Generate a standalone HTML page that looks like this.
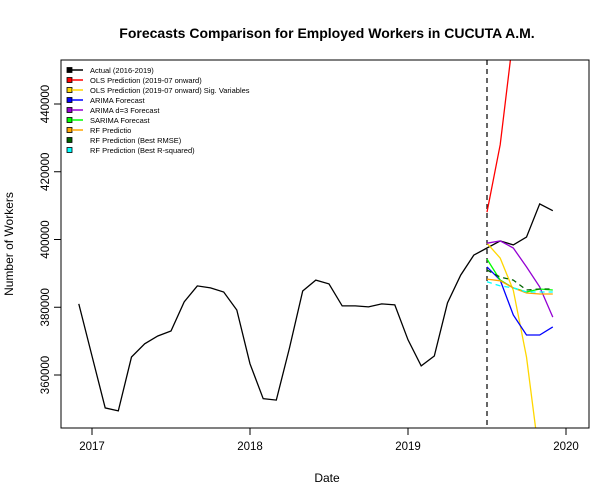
<!DOCTYPE html>
<html><head><meta charset="utf-8"><style>
html,body{margin:0;padding:0;background:#fff;width:600px;height:500px;overflow:hidden;}
svg{font-family:"Liberation Sans",Arial,sans-serif;display:block}
</style></head><body>
<svg id="chart" width="600" height="500">
<text x="327" y="38" text-anchor="middle" font-size="14" font-weight="bold">Forecasts Comparison for Employed Workers in CUCUTA A.M.</text>
<text x="327" y="482" text-anchor="middle" font-size="12">Date</text>
<text transform="translate(13,244) rotate(-90)" text-anchor="middle" font-size="12">Number of Workers</text>
<g id="axes"></g>
<g id="marks"></g>
<rect x="61" y="60" width="528" height="368" fill="none" stroke="#000"/>
<g id="legend"></g>
</svg>
<script>
const yTicks=[360000,380000,400000,420000,440000];
const xTickLabels=["2017","2018","2019","2020"];
const actual=[381000,365600,350300,349400,365300,369200,371500,373000,381600,386300,385700,384500,379200,363300,353000,352600,368000,384800,388000,386900,380400,380400,380100,381000,380700,370400,362700,365600,381300,389500,395400,397500,399600,398400,400700,410500,408500];
const olsPred=[408100,428000,460000,490000,520000,550000];
const olsSig=[398900,394500,385000,365300,335000,310000];
const arima=[391900,388000,377700,371800,371800,374200];
const arimaD3=[398900,399600,397500,391900,386000,377100];
const sarima=[394200,388000,385700,384500,385400,385100];
const rfPred=[388300,387800,385700,384200,383900,383900];
const rfRmse=[391000,388900,388000,385100,385400,385400];
const rfR2=[387500,386300,385700,384500,384500,384500];
const startMonth=2016*12+11;
const fcStart=2019*12+6;
const NS="http://www.w3.org/2000/svg";
const TOP=60,BOT=428;
const x=m=>92+(m-2017*12)*(158/12);
const y=v=>239.5-(v-400000)*271/80000;
function mk(tag,attrs,parent){const e=document.createElementNS(NS,tag);for(const k in attrs)e.setAttribute(k,attrs[k]);parent.appendChild(e);return e;}
const axes=document.getElementById('axes'),marks=document.getElementById('marks'),leg=document.getElementById('legend');
mk('line',{x1:92,x2:566,y1:428,y2:428,stroke:'#000'},axes);
xTickLabels.forEach(l=>{const px=x(+l*12);
 const t=mk('line',{x1:px,x2:px,y1:428,y2:435,stroke:'#000'},axes);
 
 
 const tx=mk('text',{x:px,y:450,'text-anchor':'middle','font-size':11.5},axes);tx.textContent=l;
 
 });
mk('line',{x1:61,x2:61,y1:y(360000),y2:y(440000),stroke:'#000'},axes);
yTicks.forEach(v=>{const py=y(v);
 const t=mk('line',{x1:54,x2:61,y1:py,y2:py,stroke:'#000'},axes);
 
 
 const tx=mk('text',{transform:`translate(49,${py}) rotate(-90)`,'text-anchor':'middle','font-size':11.5},axes);tx.textContent=v;
 
 });
function clipSeg(x1,y1,x2,y2){
 let t0=0,t1=1;const dy=y2-y1;
 if(dy===0){return (y1<TOP||y1>BOT)?null:[x1,y1,x2,y2];}
 const ta=(TOP-y1)/dy,tb=(BOT-y1)/dy;
 t0=Math.max(t0,Math.min(ta,tb));t1=Math.min(t1,Math.max(ta,tb));
 if(t0>t1)return null;
 return [x1+(x2-x1)*t0,y1+dy*t0,x1+(x2-x1)*t1,y1+dy*t1];}
function line(arr,start,color,name,dash){
 const raw=arr.map((v,i)=>[x(start+i),y(v)]);
 let d='';let last=null;
 for(let i=0;i<raw.length-1;i++){
  const s=clipSeg(raw[i][0],raw[i][1],raw[i+1][0],raw[i+1][1]);
  if(!s){last=null;continue;}
  const a=s[0].toFixed(1)+','+s[1].toFixed(1);
  if(last!==a)d+='M'+a;
  const b=s[2].toFixed(1)+','+s[3].toFixed(1);
  d+='L'+b;last=b;}
 const p=mk('path',{d:d,fill:'none',stroke:color,'stroke-width':1.3},marks);
 if(dash)p.setAttribute('stroke-dasharray',dash);
 
 }
const vl=mk('line',{x1:x(fcStart),x2:x(fcStart),y1:60,y2:428,stroke:'#000','stroke-dasharray':'5,4','stroke-width':1.2},marks);


line(actual,startMonth,'#000','actual-line');
line(olsPred,fcStart,'#ff0000','ols-line');
line(olsSig,fcStart,'#ffd700','ols-sig-line');
line(arima,fcStart,'#0000ff','arima-line');
line(arimaD3,fcStart,'#9400d3','arima-d3-line');
line(sarima,fcStart,'#00ff00','sarima-line');
line(rfPred,fcStart,'#ffa500','rf-line');
line(rfRmse,fcStart,'#006400','rf-rmse-line','5,4');
line(rfR2,fcStart,'#00ffff','rf-r2-line','5,4');
const legItems=[["Actual (2016-2019)","#000"],["OLS Prediction (2019-07 onward)","#ff0000"],["OLS Prediction (2019-07 onward) Sig. Variables","#ffd700"],["ARIMA Forecast","#0000ff"],["ARIMA d=3 Forecast","#9400d3"],["SARIMA Forecast","#00ff00"],["RF Predictio","#ffa500"],["RF Prediction (Best RMSE)","#006400"],["RF Prediction (Best R-squared)","#00ffff"]];
legItems.forEach((it,i)=>{const py=70+i*10;
 const g=mk('g',{},leg);
 
 
 mk('rect',{x:67,y:py-2.5,width:5,height:5,fill:it[1],stroke:'#000','stroke-width':0.8},g);
 if(i<7)mk('line',{x1:72,x2:83,y1:py,y2:py,stroke:it[1],'stroke-width':1.5},g);
 const t=mk('text',{x:90,y:py+3,'font-size':7.5,fill:'#000'},g);t.textContent=it[0];});
</script>
</body></html>
